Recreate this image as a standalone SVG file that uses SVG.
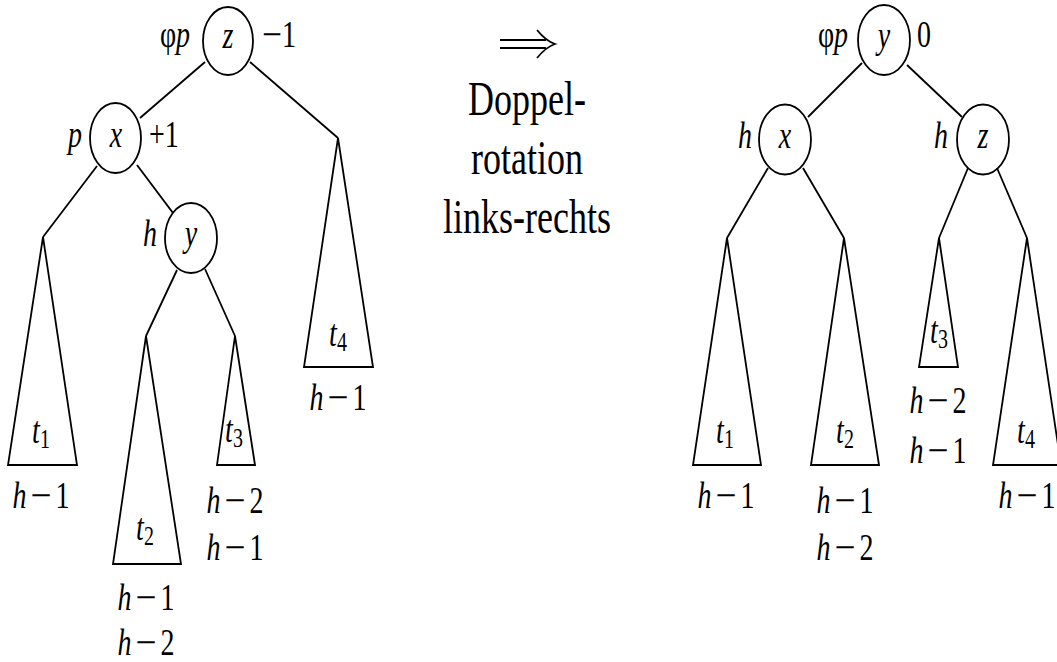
<svg xmlns="http://www.w3.org/2000/svg" width="1057" height="662" viewBox="0 0 1057 662">
<style>
.e{fill:none;stroke:#000;stroke-width:1.8}
.c line{stroke:#000;stroke-width:1.8}
text{font-family:"Liberation Serif","Times New Roman",serif;font-size:28px;fill:#000}
.i{font-style:italic}
.s{font-size:20px;font-style:normal}
.big{font-size:36px}
</style>
<rect width="1057" height="662" fill="#fff"/>
<g class="c" id="connectors">
<line x1="205" y1="62" x2="140" y2="118"/>
<line x1="250" y1="62" x2="338" y2="138"/>
<line x1="97" y1="166" x2="43" y2="237"/>
<line x1="137" y1="165" x2="173" y2="213"/>
<line x1="177" y1="270" x2="146" y2="336"/>
<line x1="205" y1="269" x2="235" y2="336"/>
<line x1="862" y1="63" x2="808" y2="117"/>
<line x1="907" y1="65" x2="962" y2="117"/>
<line x1="768" y1="168" x2="727" y2="238"/>
<line x1="803" y1="168" x2="844" y2="238"/>
<line x1="968" y1="168" x2="939" y2="238"/>
<line x1="997" y1="168" x2="1027" y2="238"/>
</g>
<g id="L-z">
<ellipse class="e" cx="228" cy="41" rx="25" ry="34"/>
<text transform="translate(175,47) scale(1,1.35)" text-anchor="middle">φ<tspan class="i">p</tspan></text>
<text class="i" transform="translate(228,48) scale(1,1.35)" text-anchor="middle">z</text>
<text transform="translate(262,47) scale(1,1.35)"><tspan textLength="20" lengthAdjust="spacingAndGlyphs">−</tspan>1</text>
</g>
<g id="L-x">
<ellipse class="e" cx="115.5" cy="138" rx="25.5" ry="35"/>
<text class="i" transform="translate(75,147) scale(1,1.35)" text-anchor="middle">p</text>
<text class="i" transform="translate(116,147) scale(1,1.35)" text-anchor="middle">x</text>
<text transform="translate(149,147) scale(1,1.35)">+1</text>
</g>
<g id="L-y">
<ellipse class="e" cx="191" cy="238" rx="26" ry="35"/>
<text class="i" transform="translate(150,246) scale(1,1.35)" text-anchor="middle">h</text>
<text class="i" transform="translate(191,246) scale(1,1.35)" text-anchor="middle">y</text>
</g>
<g id="L-t1">
<polygon class="e" points="43,237 8,465 77,465"/>
<text transform="translate(41,443) scale(1,1.35)" text-anchor="middle"><tspan class="i">t</tspan><tspan class="s" dy="4">1</tspan></text>
<text transform="translate(41,508) scale(1,1.35)" text-anchor="middle"><tspan class="i">h</tspan><tspan dx="4" textLength="21" lengthAdjust="spacingAndGlyphs">−</tspan><tspan dx="4">1</tspan></text>
</g>
<g id="L-t2">
<polygon class="e" points="146,336 113,564 181,564"/>
<text transform="translate(145,540) scale(1,1.35)" text-anchor="middle"><tspan class="i">t</tspan><tspan class="s" dy="4">2</tspan></text>
<text transform="translate(146,610) scale(1,1.35)" text-anchor="middle"><tspan class="i">h</tspan><tspan dx="4" textLength="21" lengthAdjust="spacingAndGlyphs">−</tspan><tspan dx="4">1</tspan></text>
<text transform="translate(146,655) scale(1,1.35)" text-anchor="middle"><tspan class="i">h</tspan><tspan dx="4" textLength="21" lengthAdjust="spacingAndGlyphs">−</tspan><tspan dx="4">2</tspan></text>
</g>
<g id="L-t3">
<polygon class="e" points="235,336 217,465 255,465"/>
<text transform="translate(234,442) scale(1,1.35)" text-anchor="middle"><tspan class="i">t</tspan><tspan class="s" dy="4">3</tspan></text>
<text transform="translate(235,513) scale(1,1.35)" text-anchor="middle"><tspan class="i">h</tspan><tspan dx="4" textLength="21" lengthAdjust="spacingAndGlyphs">−</tspan><tspan dx="4">2</tspan></text>
<text transform="translate(235,560) scale(1,1.35)" text-anchor="middle"><tspan class="i">h</tspan><tspan dx="4" textLength="21" lengthAdjust="spacingAndGlyphs">−</tspan><tspan dx="4">1</tspan></text>
</g>
<g id="L-t4">
<polygon class="e" points="338,138 304,367 373,367"/>
<text transform="translate(338,346) scale(1,1.35)" text-anchor="middle"><tspan class="i">t</tspan><tspan class="s" dy="4">4</tspan></text>
<text transform="translate(338,410) scale(1,1.35)" text-anchor="middle"><tspan class="i">h</tspan><tspan dx="4" textLength="21" lengthAdjust="spacingAndGlyphs">−</tspan><tspan dx="4">1</tspan></text>
</g>
<g id="caption">
<path class="e" d="M500,40 H546 M500,48 H546 M537,30 Q546,41 555,44 Q546,47 537,58"/>
<text class="big" transform="translate(527,115) scale(1,1.35)" text-anchor="middle">Doppel-</text>
<text class="big" transform="translate(527,174) scale(1,1.35)" text-anchor="middle">rotation</text>
<text class="big" transform="translate(527,233) scale(1,1.35)" text-anchor="middle">links-rechts</text>
</g>
<g id="R-y">
<ellipse class="e" cx="884" cy="40" rx="26" ry="35"/>
<text transform="translate(833,47) scale(1,1.35)" text-anchor="middle">φ<tspan class="i">p</tspan></text>
<text class="i" transform="translate(884,48) scale(1,1.35)" text-anchor="middle">y</text>
<text transform="translate(917,47) scale(1,1.35)">0</text>
</g>
<g id="R-x">
<ellipse class="e" cx="785" cy="139.5" rx="26" ry="35"/>
<text class="i" transform="translate(745,148) scale(1,1.35)" text-anchor="middle">h</text>
<text class="i" transform="translate(785,148) scale(1,1.35)" text-anchor="middle">x</text>
</g>
<g id="R-z">
<ellipse class="e" cx="983" cy="139.5" rx="26" ry="35"/>
<text class="i" transform="translate(941,148) scale(1,1.35)" text-anchor="middle">h</text>
<text class="i" transform="translate(983,148) scale(1,1.35)" text-anchor="middle">z</text>
</g>
<g id="R-t1">
<polygon class="e" points="727,238 693,465 761,465"/>
<text transform="translate(725,443) scale(1,1.35)" text-anchor="middle"><tspan class="i">t</tspan><tspan class="s" dy="4">1</tspan></text>
<text transform="translate(726,508) scale(1,1.35)" text-anchor="middle"><tspan class="i">h</tspan><tspan dx="4" textLength="21" lengthAdjust="spacingAndGlyphs">−</tspan><tspan dx="4">1</tspan></text>
</g>
<g id="R-t2">
<polygon class="e" points="844,238 811,465 879,465"/>
<text transform="translate(845,443) scale(1,1.35)" text-anchor="middle"><tspan class="i">t</tspan><tspan class="s" dy="4">2</tspan></text>
<text transform="translate(845,513) scale(1,1.35)" text-anchor="middle"><tspan class="i">h</tspan><tspan dx="4" textLength="21" lengthAdjust="spacingAndGlyphs">−</tspan><tspan dx="4">1</tspan></text>
<text transform="translate(845,560) scale(1,1.35)" text-anchor="middle"><tspan class="i">h</tspan><tspan dx="4" textLength="21" lengthAdjust="spacingAndGlyphs">−</tspan><tspan dx="4">2</tspan></text>
</g>
<g id="R-t3">
<polygon class="e" points="939,238 919,367 958,367"/>
<text transform="translate(939,343) scale(1,1.35)" text-anchor="middle"><tspan class="i">t</tspan><tspan class="s" dy="4">3</tspan></text>
<text transform="translate(938,413) scale(1,1.35)" text-anchor="middle"><tspan class="i">h</tspan><tspan dx="4" textLength="21" lengthAdjust="spacingAndGlyphs">−</tspan><tspan dx="4">2</tspan></text>
<text transform="translate(938,463) scale(1,1.35)" text-anchor="middle"><tspan class="i">h</tspan><tspan dx="4" textLength="21" lengthAdjust="spacingAndGlyphs">−</tspan><tspan dx="4">1</tspan></text>
</g>
<g id="R-t4">
<polygon class="e" points="1027,238 993,465 1061,465"/>
<text transform="translate(1026,443) scale(1,1.35)" text-anchor="middle"><tspan class="i">t</tspan><tspan class="s" dy="4">4</tspan></text>
<text transform="translate(1027,508) scale(1,1.35)" text-anchor="middle"><tspan class="i">h</tspan><tspan dx="4" textLength="21" lengthAdjust="spacingAndGlyphs">−</tspan><tspan dx="4">1</tspan></text>
</g>
</svg>
